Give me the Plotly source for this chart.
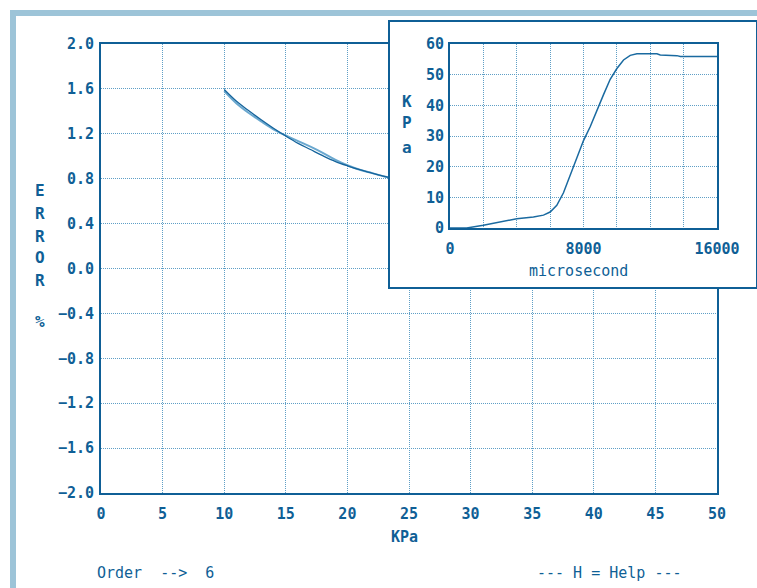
import plotly.graph_objects as go

# ---- data ----
kpa = [10, 11, 12, 13, 14, 15, 16, 17, 18, 19, 20, 21, 22, 23, 23.4]
error_fit = [1.595, 1.49, 1.405, 1.325, 1.25, 1.18, 1.115, 1.06, 1.005, 0.955, 0.915, 0.88, 0.85, 0.82, 0.81]
error_meas = [1.58, 1.47, 1.385, 1.31, 1.24, 1.185, 1.135, 1.085, 1.03, 0.97, 0.92, 0.88, 0.85, 0.82, 0.81]

time_us = [0, 1000, 2000, 3000, 4000, 5000, 5600, 6000, 6400, 6800, 7200, 7600, 8000,
           8400, 8800, 9200, 9600, 10000, 10400, 10800, 11200, 12400, 12600, 13600, 13800, 16000]
pressure = [0, 0, 0.9, 2.0, 3.0, 3.6, 4.2, 5.2, 7.4, 11.5, 17, 22.5, 28.5,
            33, 38.5, 43.5, 48.5, 52, 54.8, 56.3, 56.8, 56.8, 56.4, 56.2, 55.9, 55.9]

main_x_ticks = [0, 5, 10, 15, 20, 25, 30, 35, 40, 45, 50]
main_y_ticks = [2.0, 1.6, 1.2, 0.8, 0.4, 0.0, -0.4, -0.8, -1.2, -1.6, -2.0]
inset_x_ticks = [0, 2000, 4000, 6000, 8000, 10000, 12000, 14000, 16000]
inset_x_text = ["0", "", "", "", "8000", "", "", "", "16000"]
inset_y_ticks = [0, 10, 20, 30, 40, 50, 60]

W, H = 757, 588
DARK = "#0f5f96"
GRID = "#5f9fc6"
FRAME = "#9dc4d8"
FONT = "DejaVu Sans Mono"
GDASH = "1px,1px"

def px(x):
    return x / W

def py(y):
    return 1 - y / H

fig = go.Figure()

fig.add_trace(go.Scatter(x=kpa, y=error_meas, mode="lines", line_shape="spline",
                         line=dict(color="#6aa8cf", width=2), xaxis="x", yaxis="y",
                         showlegend=False, hoverinfo="skip"))
fig.add_trace(go.Scatter(x=kpa, y=error_fit, mode="lines", line_shape="spline",
                         line=dict(color="#15649c", width=1.3), xaxis="x", yaxis="y",
                         showlegend=False, hoverinfo="skip"))
# empty trace so the inset frame subplot exists
fig.add_trace(go.Scatter(x=[None], y=[None], xaxis="x2", yaxis="y2",
                         showlegend=False, hoverinfo="skip"))
fig.add_trace(go.Scatter(x=time_us, y=pressure, mode="lines",
                         line=dict(color="#1a6aa0", width=1.5), xaxis="x3", yaxis="y3",
                         showlegend=False, hoverinfo="skip"))

tickfont = dict(family=FONT, size=15, color=DARK, weight="bold")

fig.update_layout(
    width=W, height=H,
    margin=dict(l=0, r=0, t=0, b=0, pad=0, autoexpand=False),
    paper_bgcolor="white", plot_bgcolor="white",
    xaxis=dict(domain=[px(101), px(717)], range=[0, 50], tickvals=main_x_ticks,
               showgrid=True, gridcolor=GRID, griddash=GDASH, gridwidth=1,
               showline=True, mirror=True, linecolor=DARK, linewidth=2,
               zeroline=False, ticks="", tickfont=tickfont, ticklabelstandoff=6,
               anchor="y", fixedrange=True),
    yaxis=dict(domain=[py(493), py(44)], range=[-2, 2], tickvals=main_y_ticks,
               tickformat=".1f",
               showgrid=True, gridcolor=GRID, griddash=GDASH, gridwidth=1,
               showline=True, mirror=True, linecolor=DARK, linewidth=2,
               zeroline=False, ticks="", tickfont=tickfont, ticklabelstandoff=2,
               anchor="x", fixedrange=True),
    xaxis2=dict(domain=[px(390), px(756)], range=[0, 1], showgrid=False,
                showticklabels=False, zeroline=False, showline=True, mirror=True,
                linecolor=DARK, linewidth=1.5, ticks="", anchor="y2", fixedrange=True),
    yaxis2=dict(domain=[py(287), py(22)], range=[0, 1], showgrid=False,
                showticklabels=False, zeroline=False, showline=True, mirror=True,
                linecolor=DARK, linewidth=1.5, ticks="", anchor="x2", fixedrange=True),
    xaxis3=dict(domain=[px(450), px(717)], range=[0, 16000], tickvals=inset_x_ticks,
                ticktext=inset_x_text,
                showgrid=True, gridcolor=GRID, griddash=GDASH, gridwidth=1,
                showline=True, mirror=True, linecolor=DARK, linewidth=2,
                zeroline=False, ticks="", tickfont=tickfont, ticklabelstandoff=6,
                anchor="y3", fixedrange=True),
    yaxis3=dict(domain=[py(228), py(44)], range=[0, 60], tickvals=inset_y_ticks,
                showgrid=True, gridcolor=GRID, griddash=GDASH, gridwidth=1,
                showline=True, mirror=True, linecolor=DARK, linewidth=2,
                zeroline=False, ticks="", tickfont=tickfont, ticklabelstandoff=1,
                anchor="x3", fixedrange=True),
)

# light blue window frame
fig.add_shape(type="rect", xref="paper", yref="paper",
              x0=px(10), x1=1, y0=py(16), y1=py(10),
              fillcolor=FRAME, line=dict(width=0), layer="above")
fig.add_shape(type="rect", xref="paper", yref="paper",
              x0=px(10), x1=px(16), y0=0, y1=py(10),
              fillcolor=FRAME, line=dict(width=0), layer="above")

def label(text, x, y, size=15, bold=False, xanchor="center"):
    fig.add_annotation(text=text, xref="paper", yref="paper", x=px(x), y=py(y),
                       xanchor=xanchor, yanchor="middle", showarrow=False,
                       font=dict(family=FONT, size=size, color=DARK,
                                 weight="bold" if bold else "normal"))

for ch, yy in zip(["E", "R", "R", "O", "R", "%"], [190, 213, 236, 258, 281, 321]):
    label(ch, 40, yy, size=16, bold=True)
for ch, yy in zip(["K", "P", "a"], [101, 123, 147]):
    label(ch, 407, yy, size=16, bold=True)

label("KPa", 405, 537, size=15, bold=True)
label("microsecond", 578, 271, size=15)
label("Order\u00a0\u00a0-->\u00a0\u00a06", 95, 573, size=15, xanchor="left")
label("---\u00a0H\u00a0=\u00a0Help\u00a0---", 609, 573, size=15)

fig.write_html("out.html", config={"displayModeBar": False},
               post_script="document.body.style.margin='0';document.body.style.overflow='hidden';")
